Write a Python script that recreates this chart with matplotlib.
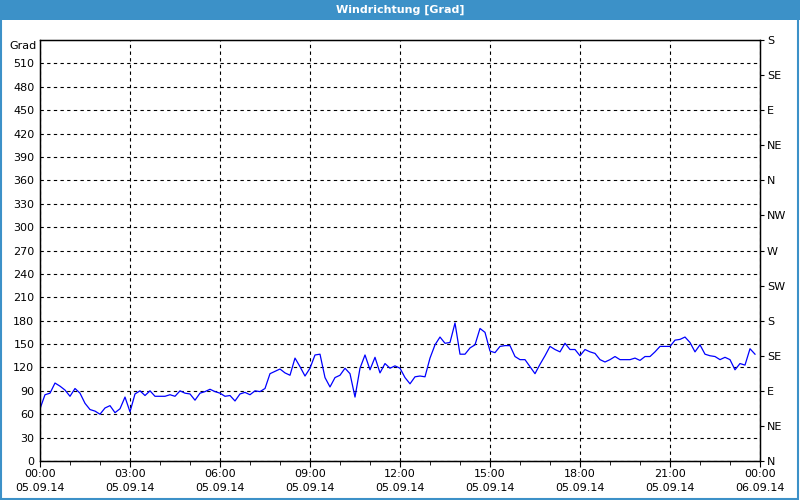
import matplotlib
matplotlib.use("Agg")
import matplotlib.pyplot as plt
import matplotlib.dates as mdates
from matplotlib.patches import Rectangle
import pandas as pd

# wind direction, 10 minute values, 05.09.14 00:00 .. 23:50
direction = [
    67, 85, 87, 100, 96, 91, 83, 93, 87, 74, 66, 64, 60, 68, 71, 62, 67, 82, 63, 86,
    90, 84, 90, 83, 83, 83, 85, 83, 90, 87, 86, 78, 87, 89, 92, 89, 87, 83, 84, 77,
    86, 88, 85, 90, 89, 93, 112, 115, 118, 113, 110, 132, 121, 109, 119, 136, 137, 107, 95, 107,
    110, 119, 112, 82, 119, 136, 117, 133, 113, 125, 119, 122, 119, 107, 99, 108, 109, 108, 132, 149,
    159, 151, 152, 177, 137, 137, 145, 149, 170, 165, 141, 139, 147, 148, 148, 134, 130, 130, 121, 112,
    124, 135, 147, 143, 140, 151, 143, 143, 135, 143, 140, 138, 130, 127, 130, 134, 130, 130, 130, 132,
    129, 134, 134, 140, 147, 147, 147, 155, 156, 159, 152, 140, 149, 137, 135, 134, 130, 133, 130, 117,
    125, 123, 144, 137,
]
times = pd.date_range("2014-09-05 00:00", periods=len(direction), freq="10min")

left_ticks = list(range(0, 540, 30))
compass_ticks = list(range(0, 541, 45))
compass_labels = ["N", "NE", "E", "SE", "S", "SW", "W", "NW", "N", "NE", "E", "SE", "S"]

blue = "#3c91c8"
t0 = pd.Timestamp("2014-09-05 00:00")
t1 = pd.Timestamp("2014-09-06 00:00")

fig = plt.figure(figsize=(8, 5), dpi=100, facecolor="white")
fig.patches.append(Rectangle((0, 0.96), 1, 0.04, transform=fig.transFigure,
                             facecolor=blue, edgecolor="none", zorder=0))
fig.patches.append(Rectangle((0.001, 0.002), 0.997, 0.996, transform=fig.transFigure,
                             facecolor="none", edgecolor=blue, linewidth=1.5, zorder=0))
fig.text(0.5, 0.981, "Windrichtung [Grad]", color="white", fontsize=8,
         fontweight="bold", ha="center", va="center")
fig.text(0.046, 0.908, "Grad", fontsize=8, ha="right", va="center")

ax = fig.add_axes([0.05, 0.078, 0.90, 0.842])
ax.plot(times, direction, color="#0000ff", linewidth=0.9)

ax.set_xlim(t0, t1)
ax.set_ylim(0, 540)
ax.set_yticks(left_ticks)
ax.set_yticklabels([str(v) for v in left_ticks], fontsize=8)
ax.tick_params(axis="y", length=0, pad=4)

ax.xaxis.set_major_locator(mdates.HourLocator(byhour=range(0, 24, 3)))
ax.xaxis.set_minor_locator(mdates.HourLocator())
ax.xaxis.set_major_formatter(mdates.DateFormatter("%H:%M\n%d.%m.%y"))
ax.tick_params(axis="x", which="major", length=4, labelsize=8, pad=2)
ax.tick_params(axis="x", which="minor", length=3)
for lbl in ax.get_xticklabels():
    lbl.set_linespacing(1.45)

ax.grid(True, color="black", linestyle=(0, (3, 3)), linewidth=0.8)
for sp in ax.spines.values():
    sp.set_color("black")
    sp.set_linewidth(1)

ax2 = ax.twinx()
ax2.set_ylim(0, 540)
ax2.set_yticks(compass_ticks)
ax2.set_yticklabels(compass_labels, fontsize=8)
ax2.tick_params(axis="y", length=3, pad=2)

fig.savefig("out.png", dpi=100, facecolor="white")
